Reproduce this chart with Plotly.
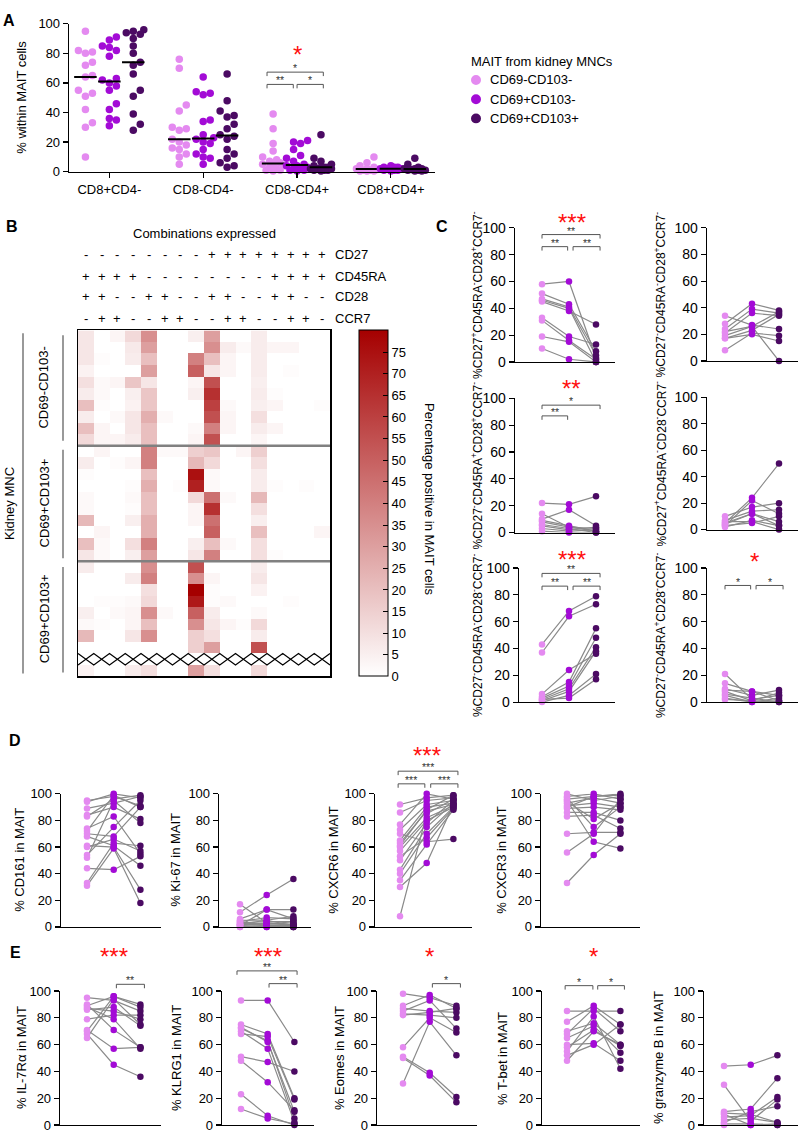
import numpy as np
import plotly.graph_objects as go

W, H = 800, 1140
FONT = "Arial, 'Liberation Sans', sans-serif"
C_LIGHT, C_MED, C_DARK = "#E48AF0", "#A30BD6", "#4B0A63"
SUBSET_COLORS = [C_LIGHT, C_MED, C_DARK]
SUBSET_NAMES = ["CD69-CD103-", "CD69+CD103-", "CD69+CD103+"]
LEGEND_TITLE = "MAIT from kidney MNCs"
LINE_GREY = "#8a8a8a"

# ---------------- Panel A data ----------------
A_CATEGORIES = ["CD8+CD4-", "CD8-CD4-", "CD8-CD4+", "CD8+CD4+"]
A_CD69n_CD103n = [
    [95, 82, 81, 80, 74, 72, 65, 64, 55, 53, 51, 42, 33, 30, 10],
    [76, 70, 45, 41, 30, 29, 28, 22, 20, 18, 16, 15, 12, 10, 5],
    [39, 29, 19, 14, 10, 8, 7, 6, 5, 5, 4, 3, 2, 1, 1, 0.5],
    [10, 6, 4, 3, 2, 2, 1.5, 1, 1, 0.5, 0.5, 0.5],
]
A_CD69p_CD103n = [
    [91, 89, 85, 84, 82, 78, 63, 62, 60, 58, 55, 46, 42, 36, 35, 31],
    [64, 54, 53, 52, 35, 34, 25, 23, 22, 20, 19, 15, 12, 10, 9, 5],
    [21, 20, 19, 15, 11, 9, 7, 5, 4, 4, 3, 2, 2, 1, 1, 0.5],
    [4, 3, 3, 3, 2, 2, 2, 2, 1, 1, 1, 0.5],
]
A_CD69p_CD103p = [
    [96, 95, 94, 93, 90, 85, 80, 74, 72, 66, 55, 51, 39, 32, 28],
    [66, 48, 41, 38, 37, 32, 29, 25, 24, 22, 15, 12, 9, 6, 4, 3],
    [25, 9, 7, 5, 4, 3, 3, 3, 2, 2, 2, 1, 1, 1, 0.5],
    [9, 5, 3, 2, 2, 2, 1.5, 1, 1, 1, 0.5, 0.5],
]

# ---------------- Panel B data ----------------
B_CD27 = "- - - - - - - - + + + + + + + +".split()
B_CD45RA = "+ + + + - - - - - - - - + + + +".split()
B_CD28 = "+ + - - + + - - + + - - + + - -".split()
B_CCR7 = "- + + - - + + - - + + - - + + -".split()
B_MARKERS = ["CD27", "CD45RA", "CD28", "CCR7"]
B_GROUP_LABELS = ["CD69-CD103-", "CD69+CD103+", "CD69+CD103+"]
B_GROUP1 = [
    [8, 0, 3, 12, 35, 0, 0, 5, 30, 0, 0, 6, 0, 0, 0, 0],
    [8, 0, 0, 7, 30, 0, 0, 0, 35, 6, 2, 6, 3, 3, 0, 0],
    [8, 1, 0, 6, 20, 0, 0, 40, 20, 3, 0, 6, 0, 0, 0, 0],
    [4, 0, 0, 0, 30, 0, 0, 50, 8, 3, 0, 6, 0, 1, 0, 0],
    [10, 2, 3, 18, 8, 0, 0, 3, 55, 0, 0, 5, 0, 0, 0, 0],
    [6, 2, 0, 5, 18, 0, 0, 5, 65, 0, 0, 6, 1, 0, 0, 0],
    [20, 1, 0, 4, 18, 0, 0, 0, 60, 2, 0, 5, 3, 0, 0, 1],
    [6, 0, 2, 8, 25, 2, 0, 0, 55, 3, 0, 10, 0, 0, 0, 0],
    [20, 3, 0, 8, 20, 0, 0, 2, 40, 3, 0, 6, 3, 0, 0, 0],
    [12, 3, 3, 6, 20, 0, 0, 3, 55, 0, 0, 3, 0, 0, 0, 0],
]
B_GROUP2 = [
    [0, 3, 0, 0, 40, 2, 2, 15, 18, 0, 3, 15, 0, 0, 0, 0],
    [6, 0, 1, 3, 40, 0, 0, 22, 12, 0, 0, 10, 0, 0, 0, 0],
    [1, 0, 0, 0, 20, 0, 0, 75, 2, 0, 0, 6, 0, 0, 0, 0],
    [0, 0, 0, 1, 25, 0, 1, 70, 2, 0, 0, 6, 1, 0, 1, 0],
    [2, 0, 0, 2, 20, 0, 0, 12, 45, 2, 0, 22, 0, 0, 0, 0],
    [2, 0, 0, 1, 20, 0, 0, 3, 65, 0, 0, 10, 0, 0, 0, 0],
    [22, 0, 0, 5, 25, 0, 0, 3, 45, 0, 0, 5, 0, 0, 0, 0],
    [0, 3, 0, 0, 25, 0, 0, 0, 50, 0, 0, 20, 0, 0, 0, 3],
    [20, 2, 0, 10, 40, 0, 0, 5, 20, 2, 0, 10, 0, 0, 0, 0],
    [8, 2, 0, 5, 30, 0, 0, 8, 40, 0, 0, 10, 1, 0, 0, 0],
]
B_GROUP3 = [
    [6, 0, 0, 0, 35, 0, 0, 55, 0, 0, 0, 6, 0, 0, 0, 0],
    [0, 0, 0, 6, 40, 0, 0, 35, 3, 0, 0, 8, 0, 0, 0, 0],
    [0, 0, 0, 0, 10, 0, 0, 80, 1, 0, 0, 4, 0, 0, 0, 0],
    [0, 1, 1, 2, 12, 0, 0, 72, 1, 2, 0, 0, 0, 1, 0, 0],
    [5, 0, 2, 3, 35, 2, 0, 50, 6, 0, 0, 2, 0, 0, 0, 0],
    [2, 1, 0, 3, 20, 0, 0, 35, 8, 3, 1, 12, 0, 0, 0, 0],
    [22, 0, 0, 8, 35, 0, 0, 15, 10, 0, 0, 6, 0, 0, 0, 0],
    [0, 0, 0, 0, 0, 0, 0, 15, 30, 0, 0, 55, 0, 0, 0, 0],
    [None, None, None, None, None, None, None, None, None, None, None, None, None, None, None, None],
    [4, 0, 0, 6, 10, 0, 0, 30, 10, 0, 0, 12, 0, 0, 0, 0],
]
B_CB_TICKS = [0, 5, 10, 15, 20, 25, 30, 35, 40, 45, 50, 55, 60, 65, 70, 75]

# ---------------- Panel C data (CD69-CD103-, CD69+CD103-, CD69+CD103+) ----------------
C_R1L = ([58, 51, 47, 45, 46, 33, 31, 19, 10], [60, 43, 41, 38, 40, 19, 16, 15, 2], [3, 8, 5, 28, 0, 13, 2, 0, 0])
C_R1R = ([34, 28, 24, 21, 19, 17, 8, 17, 22], [27, 43, 39, 36, 26, 23, 21, 20, 26], [24, 38, 36, 34, 0, 35, 19, 15, 37])
C_R2L = ([22, 14, 10, 8, 6, 5, 3, 1, 9], [21, 4, 17, 4, 3, 2, 1, 0, 5], [27, 1, 5, 3, 0, 4, 2, 0, 1])
C_R2R = ([5, 3, 10, 7, 4, 2, 6, 3, 5], [24, 22, 17, 14, 12, 7, 6, 5, 12], [50, 12, 20, 15, 6, 3, 0, 10, 3])
C_R3L = ([43, 37, 6, 4, 3, 2, 1, 0, 2], [68, 64, 24, 15, 12, 10, 8, 5, 3], [79, 73, 36, 55, 48, 41, 38, 21, 17])
C_R3R = ([21, 14, 10, 8, 6, 5, 3, 2, 9], [2, 8, 5, 1, 3, 0, 0, 1, 8], [5, 1, 9, 7, 0, 3, 1, 0, 5])
C_TITLES = [
    "%CD27<sup>+</sup>CD45RA<sup>-</sup>CD28<sup>+</sup>CCR7<sup>-</sup>",
    "%CD27<sup>-</sup>CD45RA<sup>-</sup>CD28<sup>+</sup>CCR7<sup>-</sup>",
    "%CD27<sup>-</sup>CD45RA<sup>+</sup>CD28<sup>+</sup>CCR7<sup>-</sup>",
    "%CD27<sup>+</sup>CD45RA<sup>-</sup>CD28<sup>-</sup>CCR7<sup>-</sup>",
    "%CD27<sup>-</sup>CD45RA<sup>-</sup>CD28<sup>-</sup>CCR7<sup>-</sup>",
    "%CD27<sup>-</sup>CD45RA<sup>+</sup>CD28<sup>-</sup>CCR7<sup>-</sup>",
]

# ---------------- Panel D data ----------------
D_CD161 = ([95, 94, 89, 84, 83, 74, 72, 68, 61, 60, 54, 52, 44, 33, 31, 70],
           [98, 100, 93, 90, 96, 83, 99, 61, 60, 66, 75, 95, 43, 63, 59, 68],
           [91, 97, 98, 81, 99, 55, 90, 46, 28, 57, 95, 78, 53, 61, 18, 90])
D_KI67 = ([17, 11, 6, 5, 4, 3, 2, 2, 1, 1, 0, 0, 3, 4, 2, 1],
          [3, 24, 13, 5, 7, 4, 1, 2, 0, 3, 1, 0, 2, 1, 5, 13],
          [2, 36, 13, 8, 6, 4, 1, 2, 0, 1, 0, 2, 4, 0, 1, 6])
D_CXCR6 = ([92, 86, 77, 73, 65, 63, 60, 57, 53, 50, 43, 40, 35, 30, 8, 61, 70],
           [97, 95, 100, 92, 90, 87, 82, 80, 67, 78, 75, 70, 62, 48, 85, 88, 64],
           [99, 97, 96, 95, 93, 92, 91, 90, 89, 95, 93, 90, 88, 92, 96, 99, 66])
D_CXCR3 = ([100, 98, 96, 95, 93, 91, 89, 86, 83, 70, 56, 33, 94, 97, 90],
           [95, 100, 98, 64, 97, 93, 90, 86, 84, 71, 70, 54, 81, 75, 98],
           [98, 96, 100, 59, 93, 90, 88, 80, 74, 71, 96, 70, 93, 90, 99])
D_TITLES = ["% CD161 in MAIT", "% Ki-67 in MAIT", "% CXCR6 in MAIT", "% CXCR3 in MAIT"]

# ---------------- Panel E data ----------------
E_IL7RA = ([95, 89, 87, 86, 79, 71, 68, 65, 88, 90, 70],
           [93, 96, 85, 88, 82, 57, 45, 94, 79, 71, 96],
           [85, 90, 79, 74, 82, 58, 36, 75, 57, 58, 88])
E_KLRG1 = ([93, 75, 72, 70, 68, 51, 48, 23, 12, 73],
           [93, 68, 63, 57, 66, 47, 32, 7, 5, 62],
           [62, 20, 5, 2, 19, 40, 11, 0, 1, 10])
E_EOMES = ([98, 89, 87, 85, 83, 58, 51, 50, 31, 82],
           [95, 97, 85, 93, 82, 80, 39, 37, 77, 84],
           [89, 87, 84, 72, 80, 69, 21, 17, 52, 87])
E_TBET = ([85, 77, 70, 68, 65, 60, 58, 55, 52, 48],
          [85, 89, 76, 87, 74, 61, 71, 81, 60, 70],
          [85, 75, 60, 70, 54, 48, 59, 42, 75, 60])
E_GZMB = ([44, 30, 10, 8, 6, 4, 2, 1, 0, 9],
          [45, 3, 12, 0, 7, 5, 10, 1, 0, 8],
          [52, 19, 35, 1, 21, 2, 14, 0, 0, 2])
E_TITLES = ["% IL-7R\u03b1 in MAIT", "% KLRG1 in MAIT", "% Eomes in MAIT", "% T-bet in MAIT", "% granzyme B in MAIT"]

Y_TICKS = [0, 20, 40, 60, 80, 100]

# =====================================================================
fig = go.Figure()
ANN, SHAPES, GEO = [], [], {}


def axname(n):
    return ("x", "y") if n == 1 else (f"x{n}", f"y{n}")


def add_axes(n, x0, x1, ytop, ybot, xr, yr=(0, 100), tickfont=13, yticks=True, xtickvals=None, xticktext=None):
    GEO[n] = (x0, x1, ytop, ybot, list(xr), list(yr))
    k = "" if n == 1 else str(n)
    xa, ya = axname(n)
    fig.update_layout(**{
        f"xaxis{k}": dict(domain=[x0 / W, x1 / W], range=list(xr), anchor=ya, showline=True,
                          linecolor="black", linewidth=1.3, showgrid=False, zeroline=False,
                          ticks="outside" if xtickvals is not None else "", ticklen=5, tickwidth=1.2,
                          tickcolor="black", tickvals=xtickvals, ticktext=xticktext,
                          showticklabels=xtickvals is not None,
                          tickfont=dict(family=FONT, size=tickfont, color="black"), fixedrange=True),
        f"yaxis{k}": dict(domain=[1 - ybot / H, 1 - ytop / H], range=list(yr), anchor=xa, showline=True,
                          linecolor="black", linewidth=1.3, showgrid=False, zeroline=False,
                          ticks="outside" if yticks else "", ticklen=5, tickwidth=1.2, tickcolor="black",
                          tickvals=Y_TICKS if yticks else None, showticklabels=yticks,
                          tickfont=dict(family=FONT, size=tickfont, color="black"), fixedrange=True),
    })


def to_px(n, x, y):
    x0, x1, ytop, ybot, xr, yr = GEO[n]
    px = x0 + (x - xr[0]) / (xr[1] - xr[0]) * (x1 - x0)
    py = ybot - (y - yr[0]) / (yr[1] - yr[0]) * (ybot - ytop)
    return px, py


def ann(px, py, text, size=13, color="black", angle=0, xanchor="center", yanchor="middle"):
    ANN.append(dict(x=px / W, y=1 - py / H, xref="paper", yref="paper", text=text, showarrow=False,
                    font=dict(family=FONT, size=size, color=color), textangle=angle,
                    xanchor=xanchor, yanchor=yanchor))


def pline(pts, color="black", width=1.0):
    d = "M " + " L ".join(f"{px / W:.5f},{1 - py / H:.5f}" for px, py in pts)
    SHAPES.append(dict(type="path", path=d, xref="paper", yref="paper", line=dict(color=color, width=width)))


def bracket(n, xa, xb, y, label, tick=4):
    pa = to_px(n, xa, y)
    pb = to_px(n, xb, y)
    pline([(pa[0], pa[1] + tick), pa, pb, (pb[0], pb[1] + tick)], color="#555555", width=1.0)
    ann((pa[0] + pb[0]) / 2, pa[1] - 4, label, size=10.5, color="#333333")


def red_star(n, x, y, label):
    px, py = to_px(n, x, y)
    ann(px, py + 4, label, size=24, color="#FF1010")


def swarm_offsets(values, px_per_x, px_per_y, diam, max_px):
    order = np.argsort(values, kind="stable")
    step = diam * 0.5
    cands = [0.0]
    j = 1
    while j * step <= max_px:
        cands += [j * step, -j * step]
        j += 1
    placed, offs = [], np.zeros(len(values))
    for i in order:
        yp = values[i] * px_per_y
        best, bestd = 0.0, -1.0
        for c in cands:
            dmin = min([np.hypot(c - qx, yp - qy) for qx, qy in placed], default=1e9)
            if dmin >= diam:
                best = c
                break
            if dmin > bestd:
                best, bestd = c, dmin
        placed.append((best, yp))
        offs[i] = best / px_per_x
    return offs


# ---------------- Panel A ----------------
add_axes(1, 69, 435, 16, 166, (-0.43, 3.47), tickfont=13,
         xtickvals=list(range(len(A_CATEGORIES))), xticktext=A_CATEGORIES)
px_per_x = (435 - 69) / 3.9
px_per_y = 150 / 100
sub_off = [-0.255, 0.0, 0.255]
for s, series in enumerate([A_CD69n_CD103n, A_CD69p_CD103n, A_CD69p_CD103p]):
    xs, ys, mx, my = [], [], [], []
    for g, vals in enumerate(series):
        offs = swarm_offsets(vals, px_per_x, px_per_y, 7.0, 11.5)
        c = g + sub_off[s]
        xs += list(c + offs)
        ys += list(vals)
        med = float(np.median(vals))
        mx += [c - 0.12, c + 0.12, None]
        my += [med, med, None]
    fig.add_trace(go.Scatter(x=xs, y=ys, mode="markers", name=SUBSET_NAMES[s],
                             marker=dict(color=SUBSET_COLORS[s], size=7.5), cliponaxis=False,
                             xaxis="x", yaxis="y", showlegend=False, hoverinfo="skip"))
    fig.add_trace(go.Scatter(x=mx, y=my, mode="lines", line=dict(color="black", width=2),
                             xaxis="x", yaxis="y", showlegend=False, hoverinfo="skip", cliponaxis=False))
ann(22, 91, "% within MAIT cells", size=13, angle=-90)
red_star(1, 2.0, 82, "*")
bracket(1, 1.68, 2.28, 67.3, "*")
bracket(1, 1.68, 1.96, 59, "**")
bracket(1, 2.0, 2.28, 59, "*")

# legend (drawn by hand to match the reference spacing)
ann(469, 54, LEGEND_TITLE, size=13, xanchor="left")
for s, (name, col) in enumerate(zip(SUBSET_NAMES, SUBSET_COLORS)):
    cy = 73 + 19.5 * s
    SHAPES.append(dict(type="circle", xref="paper", yref="paper",
                       x0=(476 - 5) / W, x1=(476 + 5) / W, y0=1 - (cy + 5) / H, y1=1 - (cy - 5) / H,
                       fillcolor=col, line=dict(width=0)))
    ann(488, cy, name, size=13, xanchor="left")

# ---------------- Panel B (heatmap) ----------------
z_rows = B_GROUP1 + B_GROUP2 + B_GROUP3
n_rows, n_cols = len(z_rows), len(B_CD27)
add_axes(2, 78, 330, 327, 678, (-0.5, n_cols - 0.5), yr=(n_rows - 0.5, -0.5), yticks=False)
fig.update_layout(xaxis2=dict(mirror=True, linewidth=1.5), yaxis2=dict(mirror=True, linewidth=1.5))
fig.add_trace(go.Heatmap(
    z=z_rows, x=list(range(n_cols)), y=list(range(n_rows)), xaxis="x2", yaxis="y2",
    zmin=0, zmax=80, colorscale=[[0, "#FFFFFF"], [1, "#A50000"]], hoverinfo="skip",
    colorbar=dict(x=359 / W, xanchor="left", xpad=0, y=1 - (327 + 678) / 2 / H, yanchor="middle", ypad=0,
                  len=351 / H, lenmode="fraction", thickness=29, thicknessmode="pixels",
                  outlinecolor="black", outlinewidth=1, tickvals=B_CB_TICKS, ticks="inside", ticklen=5,
                  tickcolor="black", tickfont=dict(family=FONT, size=13, color="black")),
))
# hatched (missing) row
for r, row in enumerate(z_rows):
    if all(v is None for v in row):
        bx = [b - 0.5 for b in range(n_cols + 1)]
        ya_ = [r - 0.5 if i % 2 == 0 else r + 0.5 for i in range(n_cols + 1)]
        yb_ = [r + 0.5 if i % 2 == 0 else r - 0.5 for i in range(n_cols + 1)]
        for yy in (ya_, yb_):
            fig.add_trace(go.Scatter(x=bx, y=yy, mode="lines", line=dict(color="black", width=1.2),
                                     xaxis="x2", yaxis="y2", showlegend=False, hoverinfo="skip"))
n1, n2 = len(B_GROUP1), len(B_GROUP2)
for yb in (n1 - 0.5, n1 + n2 - 0.5):
    SHAPES.append(dict(type="line", xref="x2", yref="y2", x0=-0.5, x1=n_cols - 0.5, y0=yb, y1=yb,
                       line=dict(color="#808080", width=2.5)))
ann(204, 229, "Combinations expressed", size=13)
for m, (sym_row, py) in enumerate(zip([B_CD27, B_CD45RA, B_CD28, B_CCR7], [250, 272, 293, 315])):
    for i, sym in enumerate(sym_row):
        px, _ = to_px(2, i, 0)
        ann(px, py, sym, size=13)
    ann(333, py, B_MARKERS[m], size=13, xanchor="left")
# group labels and lines
grp_bounds = [(327, 443), (443, 562), (562, 678)]
for (t, b), lab in zip(grp_bounds, B_GROUP_LABELS):
    pline([(63, t + 5), (63, b - 4)], color="#555555", width=1.2)
    ann(44, (t + b) / 2, lab, size=13, angle=-90)
pline([(23, 330), (23, 675)], color="#555555", width=1.2)
ann(10, 503, "Kidney MNC", size=13, angle=-90)
ann(430, 498, "Percentage positive in MAIT cells", size=13, angle=90)


# ---------------- paired plots ----------------
def paired(n, data):
    L, M, D = data
    xs, ys = [], []
    for a, b, c in zip(L, M, D):
        xs += [0, 1, 2, None]
        ys += [a, b, c, None]
    xa, ya = axname(n)
    fig.add_trace(go.Scatter(x=xs, y=ys, mode="lines", line=dict(color=LINE_GREY, width=1.2),
                             xaxis=xa, yaxis=ya, showlegend=False, hoverinfo="skip", cliponaxis=False))
    for k, vals in enumerate([L, M, D]):
        fig.add_trace(go.Scatter(x=[k] * len(vals), y=vals, mode="markers",
                                 marker=dict(color=SUBSET_COLORS[k], size=6.5), xaxis=xa, yaxis=ya,
                                 showlegend=False, hoverinfo="skip", cliponaxis=False))


def xr_from(a, p0, e, s):
    return ((a - p0) / s, (e - p0) / s)


SC = 27.0
C_GEO = [  # axis px, first point px, end px, y100 px, y0 px
    (515, 542, 615, 223, 359), (707, 725, 798, 223, 358),
    (515, 542, 615, 396, 532), (707, 725, 798, 395, 529),
    (519, 542, 615, 568, 704), (707, 725, 798, 568, 704),
]
C_DATA = [C_R1L, C_R1R, C_R2L, C_R2R, C_R3L, C_R3R]
for j, ((a, p0, e, yt, yb), data) in enumerate(zip(C_GEO, C_DATA)):
    n = 3 + j
    add_axes(n, a, e, yt, yb, xr_from(a, p0, e, SC), tickfont=14)
    paired(n, data)
    tx = 477 if j % 2 == 0 else 660
    ann(tx, (yt + yb) / 2, C_TITLES[j], size=12, angle=-90)

# C significance
red_star(3, 1.1, 107, "***")
bracket(3, 0.0, 2.15, 95, "**")
bracket(3, 0.0, 0.95, 86, "**")
bracket(3, 1.15, 2.15, 86, "**")
red_star(5, 1.1, 110, "**")
bracket(5, 0.0, 2.15, 95, "*")
bracket(5, 0.0, 0.95, 87, "**")
red_star(7, 1.1, 109, "***")
bracket(7, 0.0, 2.15, 96, "**")
bracket(7, 0.0, 0.95, 86.5, "**")
bracket(7, 1.15, 2.15, 86.5, "**")
red_star(8, 1.1, 108, "*")
bracket(8, 0.0, 0.95, 87, "*")
bracket(8, 1.15, 2.15, 87, "*")

# ---------------- Panel D ----------------
SD = 26.7
D_GEO = [(61, 87, 161), (219, 240, 311), (375, 400, 472), (541, 567, 640)]
D_TX = [20, 176, 334, 502]
for j, ((a, p0, e), data) in enumerate(zip(D_GEO, [D_CD161, D_KI67, D_CXCR6, D_CXCR3])):
    n = 9 + j
    add_axes(n, a, e, 797, 932, xr_from(a, p0, e, SD), tickfont=13)
    paired(n, data)
    ann(D_TX[j], 864, D_TITLES[j], size=13, angle=-90)
red_star(11, 1.0, 132, "***")
bracket(11, -0.07, 2.17, 117, "***")
bracket(11, -0.07, 0.93, 107.5, "***")
bracket(11, 1.15, 2.17, 107.5, "***")

# ---------------- Panel E ----------------
E_GEO = [(60, 87, 161), (222, 241, 314), (377, 403, 477), (542, 567, 640), (704, 724, 798)]
E_TX = [21, 176, 339, 502, 658]
for j, ((a, p0, e), data) in enumerate(zip(E_GEO, [E_IL7RA, E_KLRG1, E_EOMES, E_TBET, E_GZMB])):
    n = 13 + j
    add_axes(n, a, e, 997, 1133, xr_from(a, p0, e, SD), tickfont=13)
    paired(n, data)
    ann(E_TX[j], 1065, E_TITLES[j], size=13, angle=-90)
red_star(13, 1.0, 129, "***")
bracket(13, 1.1, 2.15, 105, "**")
red_star(14, 1.0, 129, "***")
bracket(14, -0.15, 2.1, 115, "**")
bracket(14, 1.05, 2.1, 105.5, "**")
red_star(15, 1.0, 129, "*")
bracket(15, 1.1, 2.15, 105.5, "*")
red_star(16, 1.0, 129, "*")
bracket(16, -0.07, 0.97, 104, "*")
bracket(16, 1.15, 2.15, 104, "*")

# ---------------- panel letters ----------------
for lab, px, py in [("A", 9, 13), ("B", 12, 222), ("C", 442, 222), ("D", 15, 743), ("E", 15, 958)]:
    ann(px, py, f"<b>{lab}</b>", size=16)

fig.update_layout(
    width=W, height=H, margin=dict(l=0, r=0, t=0, b=0), autosize=False,
    paper_bgcolor="white", plot_bgcolor="rgba(0,0,0,0)",
    font=dict(family=FONT, size=13, color="black"),
    annotations=ANN, shapes=SHAPES, showlegend=False,
)
fig.write_html("out.html", config={"displayModeBar": False, "staticPlot": True},
               post_script="document.body.style.margin='0px';")
